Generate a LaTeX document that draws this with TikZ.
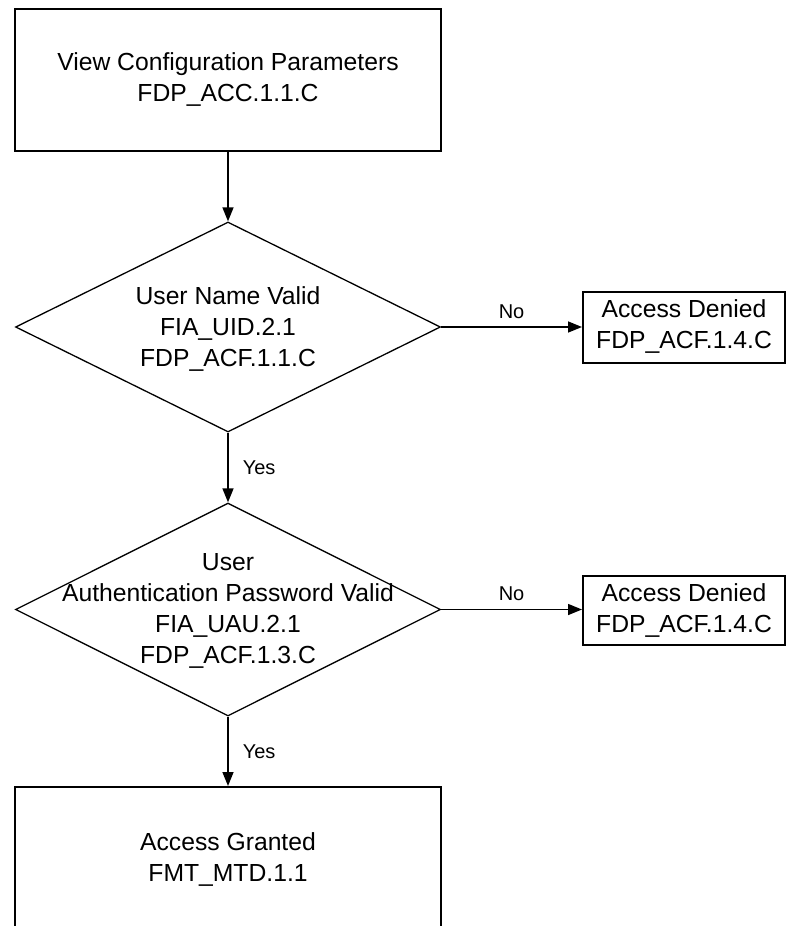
\documentclass[tikz,border=0pt]{standalone}
\usepackage{fontspec}
\setmainfont{Liberation Sans}
\usetikzlibrary{shapes.geometric,arrows.meta}

\tikzset{
  procbox/.style={draw, line width=2pt, rectangle, inner sep=0pt},
  decision/.style={draw, line width=1.3pt, diamond, inner sep=0pt},
  boxtext/.style={align=center, inner sep=0pt,
    font=\fontsize{24.7}{31}\selectfont},
  flowlabel/.style={inner sep=0pt, font=\fontsize{20}{22}\selectfont},
  flow/.style={line width=1.5pt, -{Triangle[length=14pt,width=11pt]}}
}

\begin{document}
\begin{tikzpicture}[x=1pt, y=-1pt]
  \path[use as bounding box, clip] (0,0) rectangle (786,926);

  % start box
  \node[procbox, minimum width=426pt, minimum height=142pt] (start) at (228,80) {};
  \node[boxtext] (starttext) at (start) {View Configuration Parameters\\FDP\_ACC.1.1.C};

  % first decision: user name
  \node[decision, minimum width=425pt, minimum height=210pt] (uname) at (228,327) {};
  \node[boxtext] (unametext) at (228,329) {User Name Valid\\FIA\_UID.2.1\\FDP\_ACF.1.1.C};

  % rejection after user name check
  \node[procbox, minimum width=202pt, minimum height=71pt] (deny1) at (684,327) {};
  \node[boxtext] (deny1text) at (deny1) {Access Denied\\FDP\_ACF.1.4.C};

  % second decision: password
  \node[decision, minimum width=425pt, minimum height=213pt] (pass) at (228,609.5) {};
  \node[boxtext] (passtext) at (228,611) {User\\Authentication Password Valid\\FIA\_UAU.2.1\\FDP\_ACF.1.3.C};

  % rejection after password check
  \node[procbox, minimum width=202pt, minimum height=69pt] (deny2) at (684,610) {};
  \node[boxtext] (deny2text) at (deny2) {Access Denied\\FDP\_ACF.1.4.C};

  % granted box (runs past the lower edge)
  \node[procbox, minimum width=426pt, minimum height=144pt] (grant) at (228,859) {};
  \node[boxtext] (granttext) at (grant) {Access Granted\\FMT\_MTD.1.1};

  % connectors
  \draw[flow] (start.south) -- (uname.north);
  \draw[flow] (uname.east) -- node[flowlabel, above=8pt] (no1) {No} (uname.east -| deny1.west);
  \draw[flow] (uname.south) -- node[flowlabel, right=14pt] (yes1) {Yes} (pass.north);
  \draw[flow] (pass.east) -- node[flowlabel, above=8pt] (no2) {No} (pass.east -| deny2.west);
  \draw[flow] (pass.south) -- node[flowlabel, right=14pt] (yes2) {Yes} (grant.north);
\end{tikzpicture}
\end{document}
